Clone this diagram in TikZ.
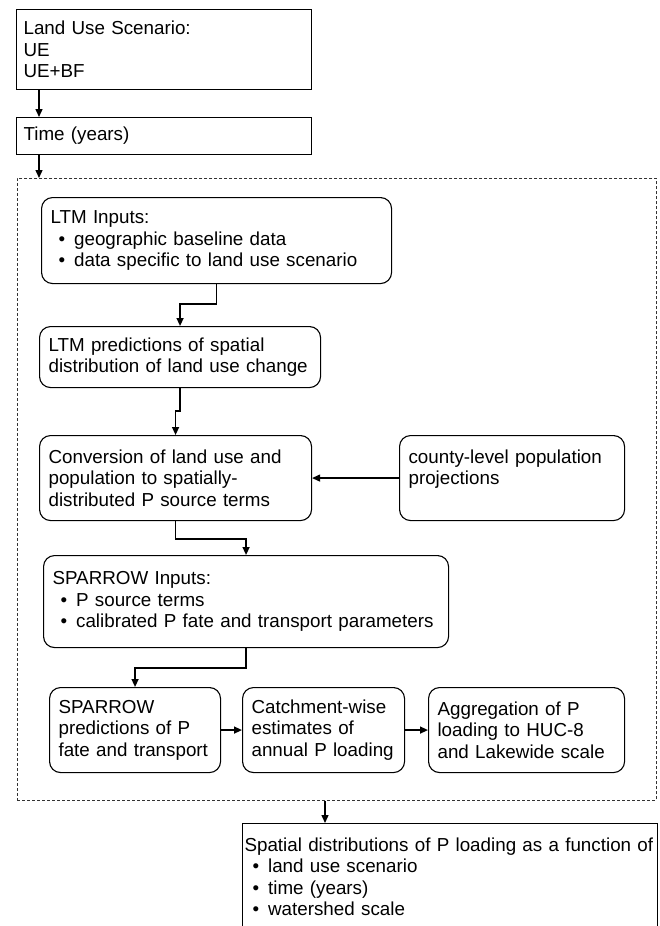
\documentclass[tikz,border=0pt]{standalone}
\usepackage{fontspec}
\setmainfont{Liberation Sans}
\usetikzlibrary{arrows.meta}

\newcommand{\itm}{\hspace*{8pt}\textbullet\hspace{9pt}}

\begin{document}
\begin{tikzpicture}[x=1pt,y=-1pt,
  every node/.style={font=\fontsize{18.8pt}{21.5pt}\selectfont},
  sqbox/.style={draw,line width=1.1pt,anchor=north west,align=left,inner xsep=7pt,inner ysep=0pt},
  rndbox/.style={sqbox,rounded corners=11pt,inner xsep=9pt},
  flow/.style={-{Triangle[length=8pt,width=7pt]},line width=1.4pt},
  loopframe/.style={draw=black!80,dash pattern=on 3pt off 2pt,line width=0.9pt,anchor=north west,inner sep=0pt}]
  \path[use as bounding box,fill=white] (0,0) rectangle (660,926);

  \node[sqbox,text width=281pt,minimum height=80pt] (land) at (16,9)
    {Land Use Scenario:\\UE\\UE+BF};
  \node[sqbox,text width=281pt,minimum height=37pt] (time) at (16,117) {Time (years)};

  \node[loopframe,minimum width=639pt,minimum height=622pt] (loop) at (17,178) {};

  \node[rndbox,text width=332pt,minimum height=86pt] (ltmin) at (41,197)
    {LTM Inputs:\\\itm geographic baseline data\\\itm data specific to land use scenario};
  \node[rndbox,text width=263pt,minimum height=61pt] (ltmpred) at (39,326)
    {LTM predictions of spatial\\distribution of land use change};
  \node[rndbox,text width=254pt,minimum height=85pt] (conv) at (39,435)
    {Conversion of land use and\\population to spatially-\\distributed P source terms};
  \node[rndbox,text width=207pt,minimum height=85pt] (county) at (399,435)
    {county-level population\\projections\\\mbox{}};
  \node[rndbox,text width=387pt,minimum height=92pt] (spin) at (43,555)
    {SPARROW Inputs:\\\itm P source terms\\\itm calibrated P fate and transport parameters};
  \node[rndbox,text width=153pt,minimum height=85pt] (sppred) at (49,687)
    {SPARROW\\predictions of P\\fate and transport};
  \node[rndbox,text width=144pt,minimum height=85pt] (catch) at (242,687)
    {Catchment-wise\\estimates of\\annual P loading};
  \node[rndbox,text width=178pt,minimum height=85pt] (aggr) at (428,687)
    {Aggregation of P\\loading to HUC-8\\and Lakewide scale};

  \node[sqbox,inner xsep=2pt,text width=411pt,minimum height=106pt] (final) at (242,823)
    {Spatial distributions of P loading as a function of\\\itm land use scenario\\\itm time (years)\\\itm watershed scale};

  % connectors
  \draw[flow] ([xshift=23pt]land.south west) -- ([xshift=23pt]time.north west);
  \draw[flow] ([xshift=23pt]time.south west) -- ([xshift=23pt]time.south west |- loop.north);
  \draw[flow] (ltmin.south) -- ++(0,20) -| (ltmpred.north);
  \draw[flow] (ltmpred.south) -- ++(0,23) -| (conv.north);
  \draw[flow] (county.west) -- (conv.east);
  \draw[flow] (conv.south) -- ++(0,18) -| (spin.north);
  \draw[flow] (spin.south) -- ++(0,20) -| (sppred.north);
  \draw[flow] (sppred.east) -- (catch.west);
  \draw[flow] (catch.east) -- (aggr.west);
  \draw[flow] ([xshift=83pt]final.north west |- loop.south) -- ([xshift=83pt]final.north west);
\end{tikzpicture}
\end{document}
